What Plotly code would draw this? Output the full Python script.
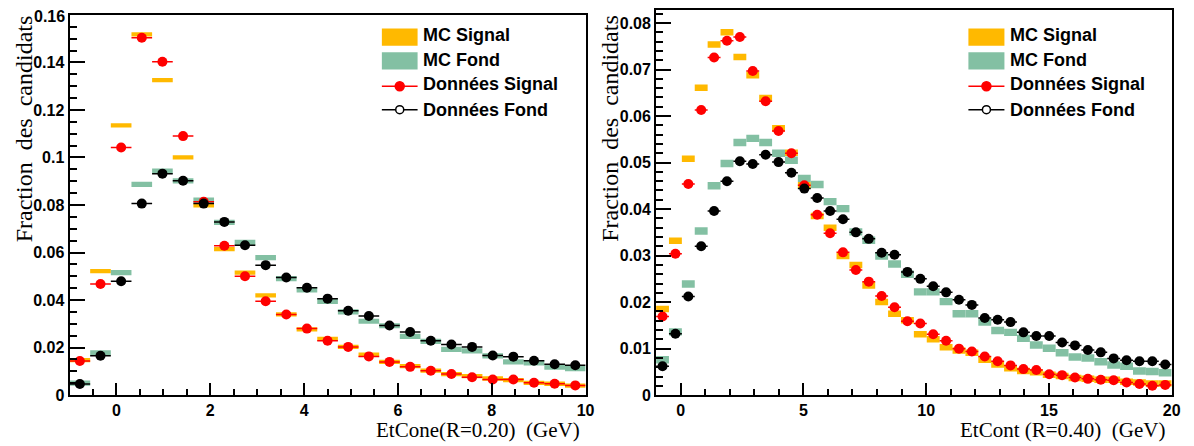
import numpy as np
import plotly.graph_objects as go

W, H = 1194, 446

# ---------------- data ----------------
# Left panel: EtCone(R=0.20), 25 bins from -1 to 10 GeV
left_lo, left_hi, left_nbins = -1.0, 10.0, 25
left_mc_signal = [0.0147, 0.0522, 0.1135, 0.1518, 0.1326, 0.1001, 0.0799, 0.0614, 0.0516, 0.0420,
                  0.0340, 0.0277, 0.0237, 0.0203, 0.0170, 0.0140, 0.0122, 0.0103, 0.0088, 0.0080,
                  0.0070, 0.0063, 0.0052, 0.0048, 0.0040]
left_mc_fond = [0.0051, 0.0178, 0.0516, 0.0887, 0.0943, 0.0902, 0.0821, 0.0727, 0.0643, 0.0579,
                0.0490, 0.0443, 0.0395, 0.0350, 0.0311, 0.0292, 0.0247, 0.0226, 0.0193, 0.0186,
                0.0165, 0.0140, 0.0136, 0.0118, 0.0112]
left_data_signal = [0.0144, 0.0468, 0.1042, 0.1504, 0.1403, 0.1090, 0.0814, 0.0629, 0.0500, 0.0395,
                    0.0339, 0.0280, 0.0229, 0.0203, 0.0163, 0.0140, 0.0119, 0.0103, 0.0089, 0.0075,
                    0.0066, 0.0066, 0.0052, 0.0048, 0.0041]
left_data_fond = [0.0047, 0.0166, 0.0479, 0.0806, 0.0932, 0.0902, 0.0806, 0.0729, 0.0631, 0.0547,
                  0.0495, 0.0452, 0.0406, 0.0355, 0.0333, 0.0293, 0.0266, 0.0229, 0.0213, 0.0203,
                  0.0167, 0.0162, 0.0145, 0.0130, 0.0126]

# Right panel: EtCont(R=0.40), 40 bins from -1 to 20 GeV
right_lo, right_hi, right_nbins = -1.0, 20.0, 40
right_mc_signal = [0.0185, 0.0332, 0.0508, 0.0661, 0.0754, 0.0780, 0.0727, 0.0688, 0.0639, 0.0574,
                   0.0521, 0.0451, 0.0385, 0.0360, 0.0299, 0.0280, 0.0236, 0.0200, 0.0175, 0.0161,
                   0.0131, 0.0120, 0.0103, 0.0096, 0.0091, 0.0076, 0.0066, 0.0058, 0.0052, 0.0049,
                   0.0044, 0.0041, 0.0037, 0.0035, 0.0033, 0.0033, 0.0029, 0.0027, 0.0025, 0.0025]
right_mc_fond = [0.0076, 0.0136, 0.0239, 0.0353, 0.0450, 0.0498, 0.0543, 0.0552, 0.0543, 0.0520,
                 0.0505, 0.0466, 0.0453, 0.0416, 0.0401, 0.0351, 0.0333, 0.0299, 0.0282, 0.0260,
                 0.0222, 0.0222, 0.0201, 0.0175, 0.0175, 0.0157, 0.0139, 0.0135, 0.0122, 0.0108,
                 0.0101, 0.0091, 0.0082, 0.0080, 0.0072, 0.0065, 0.0062, 0.0052, 0.0051, 0.0048]
right_data_signal = [0.0169, 0.0304, 0.0454, 0.0613, 0.0726, 0.0762, 0.0770, 0.0697, 0.0632, 0.0568,
                     0.0520, 0.0451, 0.0388, 0.0348, 0.0307, 0.0269, 0.0244, 0.0213, 0.0189, 0.0159,
                     0.0154, 0.0131, 0.0117, 0.0100, 0.0094, 0.0083, 0.0073, 0.0064, 0.0056, 0.0054,
                     0.0045, 0.0043, 0.0038, 0.0035, 0.0033, 0.0032, 0.0027, 0.0024, 0.0020, 0.0022]
right_data_fond = [0.0062, 0.0132, 0.0212, 0.0320, 0.0396, 0.0460, 0.0503, 0.0497, 0.0517, 0.0501,
                   0.0478, 0.0444, 0.0424, 0.0396, 0.0378, 0.0350, 0.0336, 0.0306, 0.0302, 0.0265,
                   0.0250, 0.0234, 0.0221, 0.0205, 0.0194, 0.0166, 0.0162, 0.0157, 0.0135, 0.0127,
                   0.0127, 0.0113, 0.0107, 0.0097, 0.0092, 0.0079, 0.0075, 0.0073, 0.0073, 0.0066]

legend_labels = ["MC Signal", "MC Fond", "Données Signal", "Données Fond"]
y_title = "Fraction\u00a0 des\u00a0 candidats"
left_x_title = "EtCone(R=0.20)\u00a0 (GeV)"
right_x_title = "EtCont\u00a0(R=0.40)\u00a0 (GeV)"
left_y_max = 0.16

# ---------------- styles ----------------
ORANGE = "rgb(255,185,0)"
GREEN = "rgb(131,192,163)"
RED = "rgb(255,0,0)"
BLACK = "black"
SANS = "Liberation Sans"
SERIF = "Liberation Serif"

# MC box (error band) heights in data units for each panel
left_box = {"sig": 0.0018, "fond": 0.0022}
right_box = {"sig": 0.0014, "fond": 0.0016}


def px_x(p):
    return p / W


def px_y(p):
    return 1 - p / H


fig = go.Figure()


def add_panel(lo, hi, nb, mc_sig, mc_fond, d_sig, d_fond, box, xa, ya):
    bw = (hi - lo) / nb
    centers = lo + (np.arange(nb) + 0.5) * bw
    mc_sig = np.array(mc_sig)
    mc_fond = np.array(mc_fond)
    fig.add_trace(go.Bar(x=centers, y=np.full(nb, box["sig"]), base=mc_sig - box["sig"] / 2,
                         width=bw, marker=dict(color=ORANGE, line=dict(width=0)),
                         name=legend_labels[0], showlegend=False, xaxis=xa, yaxis=ya))
    fig.add_trace(go.Bar(x=centers, y=np.full(nb, box["fond"]), base=mc_fond - box["fond"] / 2,
                         width=bw, marker=dict(color=GREEN, line=dict(width=0)),
                         name=legend_labels[1], showlegend=False, xaxis=xa, yaxis=ya))
    for vals, col, nm in ((d_sig, RED, legend_labels[2]), (d_fond, BLACK, legend_labels[3])):
        fig.add_trace(go.Scatter(x=centers, y=vals, mode="markers",
                                 marker=dict(color=col, size=10, line=dict(width=0)),
                                 error_x=dict(type="constant", value=bw / 2, color=col,
                                              thickness=1.5, width=0),
                                 name=nm, showlegend=False, xaxis=xa, yaxis=ya))


add_panel(left_lo, left_hi, left_nbins, left_mc_signal, left_mc_fond,
          left_data_signal, left_data_fond, left_box, "x", "y")
add_panel(right_lo, right_hi, right_nbins, right_mc_signal, right_mc_fond,
          right_data_signal, right_data_fond, right_box, "x2", "y2")

tickfont = dict(family=SANS, size=16, color="black", weight=700)
common = dict(showgrid=False, zeroline=False, showline=True, linecolor="black", linewidth=2,
              mirror=True, ticks="inside", tickcolor="black", tickwidth=1.5, tickfont=tickfont)

fig.update_layout(
    width=W, height=H, autosize=False,
    margin=dict(l=0, r=0, t=0, b=0),
    paper_bgcolor="white", plot_bgcolor="white",
    barmode="overlay", showlegend=False,
    xaxis=dict(domain=[px_x(62), px_x(582)], range=[left_lo, left_hi], anchor="y",
               tick0=0, dtick=2, ticklen=12,
               minor=dict(dtick=0.5, tick0=0, ticklen=6, ticks="inside", tickcolor="black", tickwidth=1.5),
               **common),
    yaxis=dict(domain=[px_y(395), px_y(6)], range=[0, left_y_max + 0.00002], anchor="x",
               tick0=0, dtick=0.02, ticklen=15,
               minor=dict(dtick=0.005, tick0=0, ticklen=7, ticks="inside", tickcolor="black", tickwidth=1.5),
               **common),
    xaxis2=dict(domain=[px_x(653), px_x(1172.5)], range=[right_lo, right_hi], anchor="y2",
                tick0=0, dtick=5, ticklen=12,
                minor=dict(dtick=1, tick0=0, ticklen=6, ticks="inside", tickcolor="black", tickwidth=1.5),
                **common),
    yaxis2=dict(domain=[px_y(395), px_y(1.5)], range=[0, 0.0827], anchor="x2",
                tick0=0, dtick=0.01, ticklen=15,
                minor=dict(dtick=0.002, tick0=0, ticklen=7, ticks="inside", tickcolor="black", tickwidth=1.5),
                **common),
)

annotations = []
shapes = []
ytitle_font = dict(family=SERIF, size=24, color="black")
xtitle_font = dict(family=SERIF, size=21, color="black")
# top tick label of the left axis (plotly hides it at the page edge)
annotations.append(dict(text=f"{left_y_max:g}", x=px_x(59), y=left_y_max, xref="paper", yref="y",
                        xanchor="right", yanchor="middle", yshift=-2, showarrow=False, font=tickfont))
# Axis titles
for xc in (17, 607):
    annotations.append(dict(text=y_title, textangle=-90, x=px_x(xc), y=px_y(4), xref="paper", yref="paper",
                            xanchor="center", yanchor="top", showarrow=False, font=ytitle_font))
annotations.append(dict(text=left_x_title, x=px_x(578), y=px_y(431), xref="paper", yref="paper",
                        xanchor="right", yanchor="middle", showarrow=False, font=xtitle_font))
annotations.append(dict(text=right_x_title, x=px_x(1168), y=px_y(431), xref="paper", yref="paper",
                        xanchor="right", yanchor="middle", showarrow=False, font=xtitle_font))

# Hand-drawn legends (ROOT style)
leg_font = dict(family=SANS, size=18, color="black", weight=700)
for bx0, bx1, tx in ((376.7, 412.7, 416.5), (967.7, 1004, 1007.5)):
    mx = (bx0 + bx1) / 2
    shapes.append(dict(type="rect", xref="paper", yref="paper", x0=px_x(bx0), x1=px_x(bx1),
                       y0=px_y(37.7), y1=px_y(20), fillcolor=ORANGE, line=dict(width=0)))
    shapes.append(dict(type="rect", xref="paper", yref="paper", x0=px_x(bx0), x1=px_x(bx1),
                       y0=px_y(62), y1=px_y(44.3), fillcolor=GREEN, line=dict(width=0)))
    for yy, col, fill in ((79, RED, RED), (103, BLACK, "white")):
        shapes.append(dict(type="line", xref="paper", yref="paper", x0=px_x(bx0), x1=px_x(bx1),
                           y0=px_y(yy), y1=px_y(yy), line=dict(color=col, width=1.5)))
        r = 4.5 if fill != "white" else 4
        shapes.append(dict(type="circle", xref="paper", yref="paper", xsizemode="pixel", ysizemode="pixel",
                           xanchor=px_x(mx), yanchor=px_y(yy), x0=-r, x1=r, y0=-r, y1=r,
                           fillcolor=fill, line=dict(color=col, width=1.5)))
    for lab, yy in zip(legend_labels, (27, 52.5, 77, 103)):
        annotations.append(dict(text=lab, x=px_x(tx), y=px_y(yy), xref="paper", yref="paper",
                                xanchor="left", yanchor="middle", showarrow=False, font=leg_font))

fig.update_layout(annotations=annotations, shapes=shapes)
fig.write_html("out.html")
